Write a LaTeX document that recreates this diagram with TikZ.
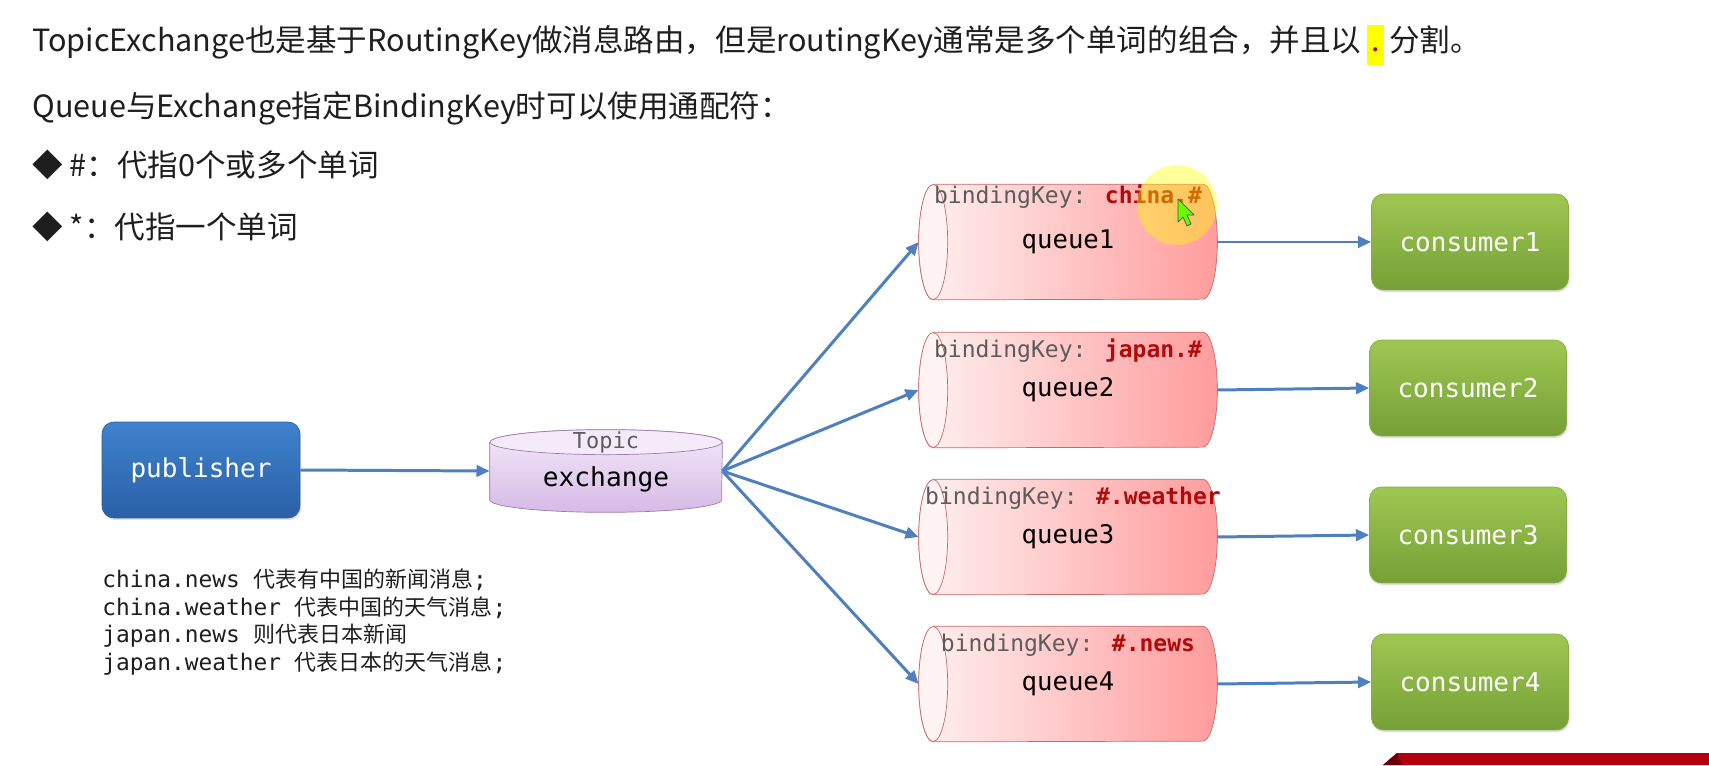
\documentclass[tikz,border=0pt]{standalone}
\usepackage{fontspec}
\setmainfont{Noto Sans CJK SC}
\newfontfamily\monof{DejaVu Sans Mono}
\newfontfamily\cjk{Noto Sans CJK SC}
\usetikzlibrary{positioning, arrows.meta, shadows, backgrounds}
\definecolor{inkdark}{HTML}{1E1E1E}
\definecolor{pubtop}{HTML}{3F82CE}
\definecolor{pubbot}{HTML}{2A60A6}
\definecolor{publine}{HTML}{2D5E9C}
\definecolor{constop}{HTML}{9EC752}
\definecolor{consbot}{HTML}{76A036}
\definecolor{consline}{HTML}{86AE45}
\definecolor{qleft}{HTML}{FFF1F1}
\definecolor{qright}{HTML}{FF9C9C}
\definecolor{qface}{HTML}{FFF3F3}
\definecolor{qline}{HTML}{C86A6A}
\definecolor{extop}{HTML}{F4EAF9}
\definecolor{exbot}{HTML}{D6BAE6}
\definecolor{exline}{HTML}{9A7DAF}
\definecolor{keygray}{HTML}{5C5C5C}
\definecolor{keyred}{HTML}{B00A0A}
\definecolor{flowblue}{HTML}{4E7FBE}
\definecolor{hlyellow}{HTML}{FFFF00}
\definecolor{bannerred}{HTML}{B3000F}
\newcommand{\hldot}{{\setlength{\fboxsep}{1.5pt}\colorbox{hlyellow}{\rule[-6pt]{0pt}{20pt}\makebox[7pt]{\textcolor{keyred}{.}}}}}

\tikzset{
	headline/.style={
			anchor=base west,
			inner sep=0pt,
			text=inkdark,
			font=\fontsize{17.4}{20}\selectfont
		},
	pubnode/.style={
			shape=rectangle,
			rounded corners=0.24cm,
			minimum width=3.96cm,
			minimum height=1.92cm,
			top color=pubtop,
			bottom color=pubbot,
			draw=publine,
			text=white,
			font=\monof\fontsize{14.8}{17}\selectfont,
			drop shadow={shadow xshift=0.6pt, shadow yshift=-1.2pt, opacity=0.25}
		},
	consnode/.style={
			pubnode,
			minimum width=3.94cm,
			top color=constop,
			bottom color=consbot,
			draw=consline
		},
	queuenode/.style={
			shape=rectangle,
			minimum width=5.96cm,
			minimum height=2.3cm,
			inner sep=0pt,
			text=black,
			font=\monof\fontsize{14.6}{17}\selectfont
		},
	queuebody/.style={
			draw=qline,
			left color=qleft,
			right color=qright
		},
	queueface/.style={
			draw=qline,
			fill=qface
		},
	exnode/.style={
			shape=rectangle,
			minimum width=4.64cm,
			minimum height=1.64cm,
			inner sep=0pt
		},
	exbody/.style={
			draw=exline,
			top color=extop,
			bottom color=exbot
		},
	exface/.style={
			draw=exline,
			fill=extop
		},
	exlabel/.style={
			inner sep=0pt,
			text=black,
			font=\monof\fontsize{14.9}{17}\selectfont
		},
	keylabel/.style={
			inner sep=0pt,
			text=keygray,
			font=\monof\fontsize{13.1}{15}\selectfont
		},
	notes/.style={
			anchor=west,
			align=left,
			inner sep=0pt,
			text=inkdark,
			font=\monof\fontsize{13}{15.65}\selectfont
		},
	flow/.style={
			draw=flowblue,
			line width=1.7pt,
			-{Triangle[length=7.5pt,width=6.5pt]}
		}
}

\begin{document}
\begin{tikzpicture}[x=0.02cm, y=0.02cm]
  \useasboundingbox (0,0) rectangle (1709,765);

  % heading lines
  \node[headline] (h1) at (32,713) {TopicExchange也是基于RoutingKey做消息路由，但是routingKey通常是多个单词的组合，并且以\,\hldot\,分割。};
  \node[headline] (h2) at (32,647.5) {Queue与Exchange指定BindingKey时可以使用通配符：};
  \node[headline] (h3) at (32,588.5) {◆ \#：代指0个或多个单词};
  \node[headline] (h4) at (32,526.5) {◆ *：代指一个单词};

  % publisher and exchange
  \node[pubnode] (pub) at (201,295) {publisher};
  \node[exnode] (ex) at (606,294) {};
  \node[keylabel, font=\monof\fontsize{12.5}{14}\selectfont] (extitle) at (606,323) {Topic};
  \node[exlabel] (exname) at (606,286) {exchange};

  % queues
  \node[queuenode] (q1) at (1068,523) {queue1};
  \node[queuenode] (q2) at (1068,375) {queue2};
  \node[queuenode] (q3) at (1068,228) {queue3};
  \node[queuenode] (q4) at (1068,81) {queue4};

  \node[keylabel] (k1) at (1068,568) {bindingKey: \textcolor{keyred}{\bfseries china.\#}};
  \node[keylabel] (k2) at (1068,414) {bindingKey: \textcolor{keyred}{\bfseries japan.\#}};
  \node[keylabel] (k3) at (1073,267) {bindingKey: \textcolor{keyred}{\bfseries \#.weather}};
  \node[keylabel] (k4) at (1068,120) {bindingKey: \textcolor{keyred}{\bfseries \#.news}};

  % consumers
  \node[consnode] (c1) at (1470,523) {consumer1};
  \node[consnode] (c2) at (1468,377) {consumer2};
  \node[consnode] (c3) at (1468,230) {consumer3};
  \node[consnode] (c4) at (1470,83) {consumer4};

  % cylinder bodies behind the labels
  \begin{scope}[on background layer]
    \path[exbody] ([yshift=-0.25cm]ex.north west) -- ([yshift=0.25cm]ex.south west)
      arc[start angle=180, end angle=360, x radius=2.32cm, y radius=0.25cm]
      -- ([yshift=-0.25cm]ex.north east)
      arc[start angle=0, end angle=180, x radius=2.32cm, y radius=0.25cm] -- cycle;
    \draw[exface] ([yshift=-0.25cm]ex.north) ellipse (2.32cm and 0.25cm);
    \foreach \q in {q1,q2,q3,q4} {
      \path[queuebody] ([xshift=0.29cm]\q.north west) -- ([xshift=-0.29cm]\q.north east)
        arc[start angle=90, end angle=-90, x radius=0.29cm, y radius=1.15cm]
        -- ([xshift=0.29cm]\q.south west)
        arc[start angle=270, end angle=90, x radius=0.29cm, y radius=1.15cm] -- cycle;
      \draw[queueface] ([xshift=0.29cm]\q.west) ellipse (0.29cm and 1.15cm);
    }
  \end{scope}

  % message flow
  \draw[flow] (pub.east) -- (ex.west);
  \draw[flow] (ex.east) -- (q1.west);
  \draw[flow] (ex.east) -- (q2.west);
  \draw[flow] (ex.east) -- (q3.west);
  \draw[flow] (ex.east) -- (q4.west);
  \draw[flow] (q1.east) -- (c1.west);
  \draw[flow] (q2.east) -- (c2.west);
  \draw[flow] (q3.east) -- (c3.west);
  \draw[flow] (q4.east) -- (c4.west);

  % routing key examples
  \node[notes] (ex-notes) at (102,143) {china.news {\cjk\fontsize{12.5}{15.65}\selectfont 代表有中国的新闻消息};\\
    china.weather {\cjk\fontsize{12.5}{15.65}\selectfont 代表中国的天气消息};\\
    japan.news {\cjk\fontsize{12.5}{15.65}\selectfont 则代表日本新闻}\\
    japan.weather {\cjk\fontsize{12.5}{15.65}\selectfont 代表日本的天气消息};};

  % pointer highlight
  \fill[hlyellow, opacity=0.4] (1177,560) circle (0.8cm);
  \draw[black!70, fill=green!60!yellow, line join=round] (1178,566) -- (1178,543) -- (1183,548) -- (1187,539) -- (1191,541) -- (1187,550) -- (1194,550) -- cycle;

  % banner corner
  \fill[bannerred] (1383,0) -- (1397,12) -- (1709,12) -- (1709,0) -- cycle;
  \fill[bannerred!60!black] (1383,0) -- (1397,12) -- (1402,0) -- cycle;
\end{tikzpicture}
\end{document}
